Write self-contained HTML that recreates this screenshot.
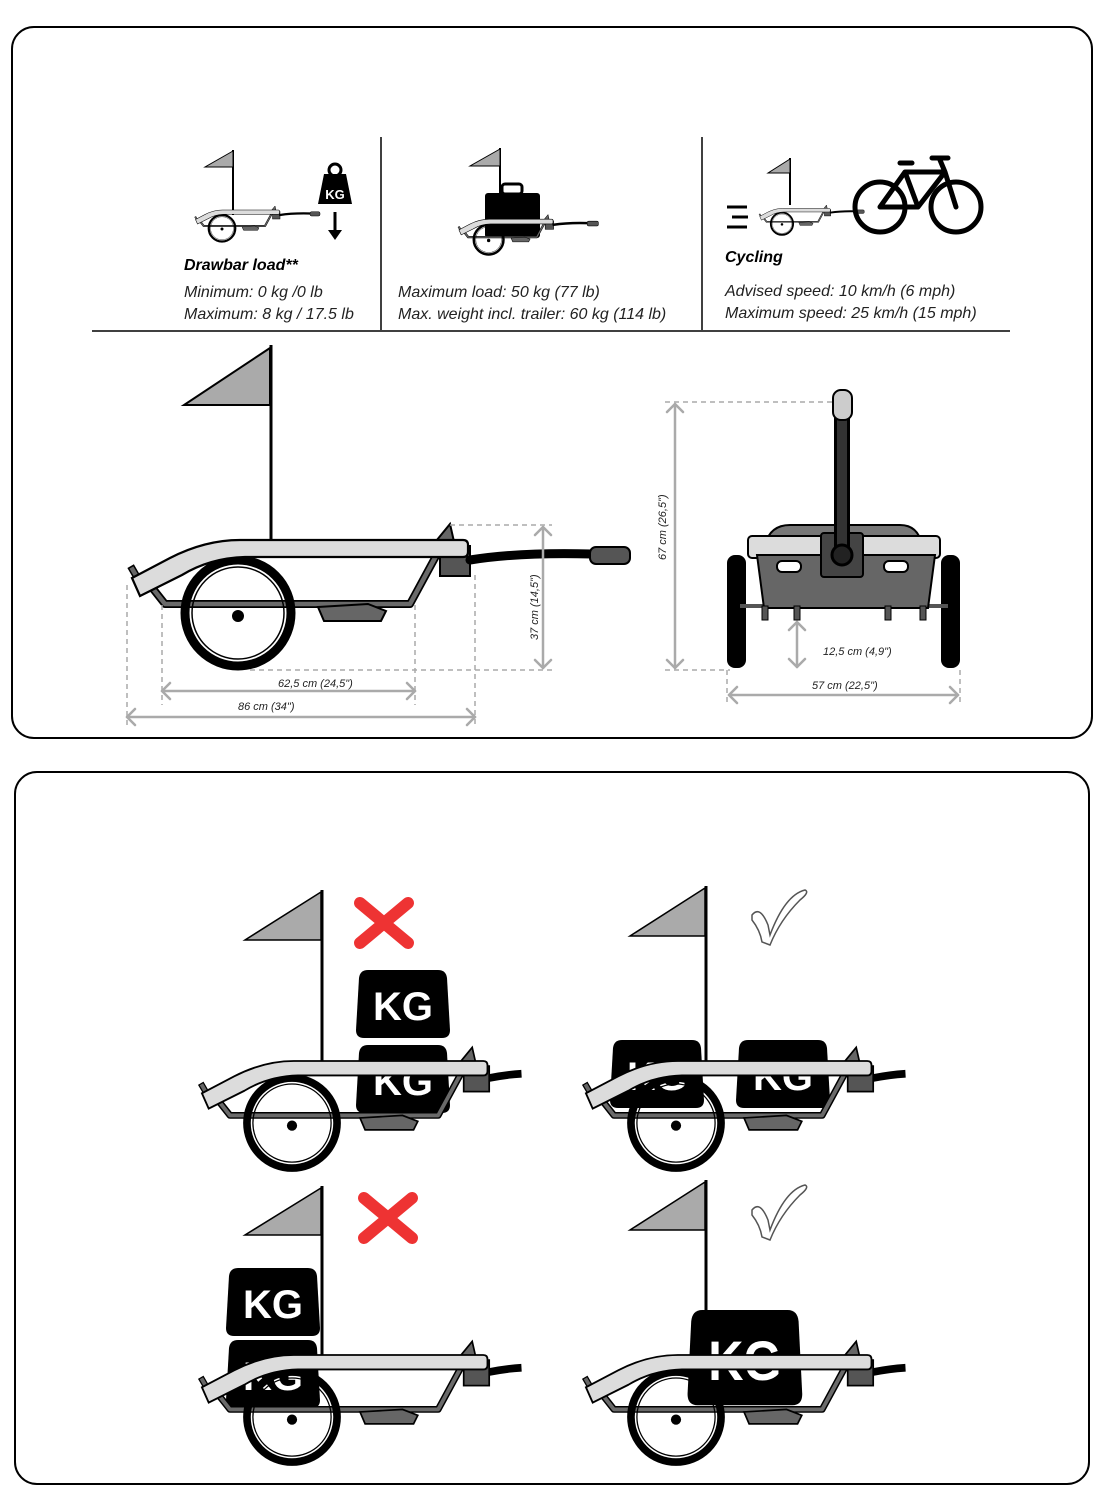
<!DOCTYPE html>
<html><head><meta charset="utf-8"><style>
html,body{margin:0;padding:0;background:#fff;}
svg{display:block;}
text{font-family:"Liberation Sans",sans-serif;}
</style></head><body>
<svg width="1109" height="1500" viewBox="0 0 1109 1500" xmlns="http://www.w3.org/2000/svg">
<defs>
<g id="tb">
  <path d="M150,585 L165,604 L410,604 L442,545" fill="none" stroke="#000" stroke-width="8" stroke-linejoin="round"/>
  <path d="M150,585 L165,604 L410,604 L442,545" fill="none" stroke="#6a6a6a" stroke-width="4.5" stroke-linejoin="round"/>
  <path d="M318,607 L368,604 L386,611 L381,621 L324,621 Z" fill="#666" stroke="#000" stroke-width="2"/>
  <circle cx="238" cy="613" r="53" fill="none" stroke="#000" stroke-width="9"/>
  <circle cx="238" cy="613" r="46" fill="none" stroke="#000" stroke-width="1.5"/>
  <circle cx="238" cy="616" r="6" fill="#000"/>
  <path d="M432,546 L450,524 L455,546 Z" fill="#666" stroke="#000" stroke-width="2"/>
  <rect x="440" y="546" width="30" height="30" fill="#555" stroke="#000" stroke-width="2"/>
  <rect x="131" y="566" width="6" height="12" fill="#666" stroke="#000" stroke-width="1.5" transform="rotate(-30 134 572)"/>
  <path d="M132,578 L140,596 L182,575 Q210,558 245,557 L463,557 Q468,557 468,552 L468,545 Q468,540 463,540 L240,540 Q205,540 170,558 Z" fill="#dcdcdc" stroke="#000" stroke-width="2.2"/>
</g>
<g id="db">
  <path d="M470,560 Q520,552 592,554" fill="none" stroke="#000" stroke-width="9" stroke-linecap="round"/>
  <rect x="590" y="547" width="40" height="17" rx="6" fill="#555" stroke="#000" stroke-width="2"/>
</g>
<g id="sb">
  <path d="M470,560 Q490,556 508,555" fill="none" stroke="#000" stroke-width="9"/>
</g>
<g id="kg">
  <path d="M10,0 L80,0 Q88,0 89,8 L92,60 Q92,68 84,68 L6,68 Q-2,68 -2,60 L1,8 Q2,0 10,0 Z" fill="#000"/>
  <text x="45" y="50" text-anchor="middle" font-size="40" font-weight="bold" fill="#fff">KG</text>
</g>
</defs>

<rect x="12" y="27" width="1080" height="711" rx="22" fill="none" stroke="#000" stroke-width="2"/>
<rect x="15" y="772" width="1074" height="712" rx="22" fill="none" stroke="#000" stroke-width="2"/>

<line x1="381" y1="137" x2="381" y2="330" stroke="#000" stroke-width="1.5"/>
<line x1="702" y1="137" x2="702" y2="330" stroke="#000" stroke-width="1.5"/>
<line x1="92" y1="331" x2="1010" y2="331" stroke="#000" stroke-width="1.5"/>

<!-- icon 1 -->
<line x1="233" y1="150" x2="233" y2="215" stroke="#000" stroke-width="2"/>
<polygon points="233,151 205,167 233,167" fill="#aaa" stroke="#000" stroke-width="1"/>
<use href="#tb" transform="translate(162.5 75) scale(0.25)"/>
<use href="#db" transform="translate(162.5 75) scale(0.25)"/>
<path d="M324,174 L346,174 L352,204 L318,204 Z" fill="#000"/>
<circle cx="335" cy="170" r="6" fill="none" stroke="#000" stroke-width="3"/>
<text x="335" y="199" text-anchor="middle" font-size="13" font-weight="bold" fill="#fff">KG</text>
<line x1="335" y1="212" x2="335" y2="234" stroke="#000" stroke-width="3"/>
<polygon points="328,230 342,230 335,240" fill="#000"/>
<text x="184" y="270" font-size="16" font-weight="bold" font-style="italic">Drawbar load**</text>
<text x="184" y="297" font-size="16" font-style="italic" fill="#222">Minimum:  0 kg  /0 lb</text>
<text x="184" y="319" font-size="16" font-style="italic" fill="#222">Maximum: 8 kg  / 17.5 lb</text>

<!-- icon 2 -->
<line x1="500" y1="148" x2="500" y2="200" stroke="#000" stroke-width="2"/>
<polygon points="500,149 470,166 500,166" fill="#aaa" stroke="#000" stroke-width="1"/>
<rect x="485" y="193" width="55" height="45" rx="3" fill="#000"/>
<rect x="502" y="184" width="20" height="10" rx="3" fill="none" stroke="#000" stroke-width="3"/>
<use href="#tb" transform="translate(422 68) scale(0.28)"/>
<use href="#db" transform="translate(422 68) scale(0.28)"/>
<text x="398" y="297" font-size="16" font-style="italic" fill="#222">Maximum  load: 50 kg  (77 lb)</text>
<text x="398" y="319" font-size="16" font-style="italic" fill="#222">Max. weight incl. trailer: 60 kg  (114 lb)</text>

<!-- icon 3 -->
<line x1="790" y1="158" x2="790" y2="205" stroke="#000" stroke-width="2"/>
<polygon points="790,159 768,173 790,173" fill="#aaa" stroke="#000" stroke-width="1"/>
<use href="#tb" transform="translate(732 95) scale(0.21)"/>
<use href="#db" transform="translate(732 95) scale(0.21)"/>
<line x1="727" y1="207" x2="747" y2="207" stroke="#000" stroke-width="3"/>
<line x1="732" y1="217" x2="748" y2="217" stroke="#000" stroke-width="3"/>
<line x1="727" y1="227" x2="747" y2="227" stroke="#000" stroke-width="3"/>
<g fill="none" stroke="#000" stroke-width="5" stroke-linejoin="round" stroke-linecap="round">
  <circle cx="880" cy="207" r="25"/>
  <circle cx="956" cy="207" r="25"/>
  <path d="M880,207 L905,172 L945,172 L956,207 M905,172 L918,207 L945,172 M880,207 L918,207 M900,163 L912,163 M940,160 L945,172 M932,158 L948,158"/>
</g>
<text x="725" y="262" font-size="16" font-weight="bold" font-style="italic">Cycling</text>
<text x="725" y="296" font-size="16" font-style="italic" fill="#222">Advised speed: 10 km/h  (6 mph)</text>
<text x="725" y="318" font-size="16" font-style="italic" fill="#222">Maximum speed: 25 km/h (15 mph)</text>

<!-- big side view -->
<line x1="271" y1="345" x2="271" y2="545" stroke="#000" stroke-width="3"/>
<polygon points="270,348 184,405 270,405" fill="#aaa" stroke="#000" stroke-width="2"/>
<use href="#tb"/>
<use href="#db"/>
<g stroke="#aaa" stroke-width="1.5" stroke-dasharray="5,4" fill="none">
  <line x1="450" y1="525" x2="552" y2="525"/>
  <line x1="250" y1="670" x2="552" y2="670"/>
  <line x1="162" y1="605" x2="162" y2="705"/>
  <line x1="415" y1="605" x2="415" y2="705"/>
  <line x1="127" y1="585" x2="127" y2="728"/>
  <line x1="475" y1="575" x2="475" y2="728"/>
  <line x1="665" y1="402" x2="835" y2="402"/>
  <line x1="665" y1="670" x2="730" y2="670"/>
  <line x1="727" y1="670" x2="727" y2="705"/>
  <line x1="960" y1="670" x2="960" y2="705"/>
</g>
<g stroke="#aaa" stroke-width="2.5" fill="none" stroke-linecap="round" stroke-linejoin="round">
  <line x1="543" y1="527" x2="543" y2="668"/>
  <path d="M535,535 L543,527 L551,535 M535,660 L543,668 L551,660"/>
  <line x1="162" y1="691" x2="415" y2="691"/>
  <path d="M170,683 L162,691 L170,699 M407,683 L415,691 L407,699"/>
  <line x1="127" y1="717" x2="475" y2="717"/>
  <path d="M135,709 L127,717 L135,725 M467,709 L475,717 L467,725"/>
  <line x1="675" y1="404" x2="675" y2="668"/>
  <path d="M667,412 L675,404 L683,412 M667,660 L675,668 L683,660"/>
  <line x1="797" y1="622" x2="797" y2="667"/>
  <path d="M789,630 L797,622 L805,630 M789,659 L797,667 L805,659"/>
  <line x1="729" y1="695" x2="958" y2="695"/>
  <path d="M737,687 L729,695 L737,703 M950,687 L958,695 L950,703"/>
</g>
<g font-size="11" font-style="italic" fill="#222">
  <text x="278" y="687">62,5 cm (24,5")</text>
  <text x="238" y="710">86 cm (34")</text>
  <text transform="translate(538 640) rotate(-90)">37 cm (14,5")</text>
  <text transform="translate(666 560) rotate(-90)">67 cm (26,5")</text>
  <text x="823" y="655">12,5 cm (4,9")</text>
  <text x="812" y="689">57 cm (22,5")</text>
</g>

<!-- rear view -->
<rect x="727" y="555" width="19" height="113" rx="8" fill="#000"/>
<rect x="941" y="555" width="19" height="113" rx="8" fill="#000"/>
<line x1="740" y1="606" x2="948" y2="606" stroke="#555" stroke-width="4"/>
<path d="M765,545 Q770,525 790,525 L900,525 Q918,525 922,545 Z" fill="#777" stroke="#000" stroke-width="2"/>
<rect x="748" y="536" width="192" height="22" rx="4" fill="#dcdcdc" stroke="#000" stroke-width="2"/>
<path d="M757,555 L935,555 L928,608 L764,608 Z" fill="#666" stroke="#000" stroke-width="2"/>
<rect x="777" y="561" width="24" height="11" rx="5" fill="#fff" stroke="#000" stroke-width="2"/>
<rect x="884" y="561" width="24" height="11" rx="5" fill="#fff" stroke="#000" stroke-width="2"/>
<rect x="762" y="606" width="6" height="14" fill="#555" stroke="#000"/>
<rect x="920" y="606" width="6" height="14" fill="#555" stroke="#000"/>
<rect x="794" y="606" width="6" height="14" fill="#555" stroke="#000"/>
<rect x="885" y="606" width="6" height="14" fill="#555" stroke="#000"/>
<rect x="821" y="533" width="42" height="44" rx="3" fill="#444" stroke="#000" stroke-width="2"/>
<line x1="842" y1="410" x2="842" y2="550" stroke="#000" stroke-width="16"/>
<line x1="842" y1="410" x2="842" y2="550" stroke="#333" stroke-width="10"/>
<circle cx="842" cy="555" r="10" fill="#222" stroke="#000" stroke-width="3"/>
<rect x="833" y="390" width="19" height="30" rx="8" fill="#ccc" stroke="#000" stroke-width="2"/>

<!-- TL -->
<line x1="322" y1="890" x2="322" y2="1075" stroke="#000" stroke-width="3"/>
<polygon points="321,892 245,940 321,940" fill="#aaa" stroke="#000" stroke-width="1.5"/>
<path d="M360,903 L408,943 M408,903 L360,943" stroke="#e33" stroke-width="12" stroke-linecap="round"/>
<use href="#kg" transform="translate(358 970)"/>
<use href="#kg" transform="translate(358 1045)"/>
<use href="#tb" transform="translate(89.7 602) scale(0.85)"/>
<use href="#sb" transform="translate(89.7 602) scale(0.85)"/>

<!-- TR -->
<line x1="706" y1="886" x2="706" y2="1070" stroke="#000" stroke-width="3"/>
<polygon points="705,888 630,936 705,936" fill="#aaa" stroke="#000" stroke-width="1.5"/>
<path d="M752,915 Q760,905 768,925 L770,935 Q785,895 805,890 Q810,892 800,900 Q780,920 770,945 L762,942 Q760,930 752,920 Z" fill="#fff" stroke="#555" stroke-width="1.5"/>
<use href="#kg" transform="translate(612 1040)"/>
<use href="#kg" transform="translate(738 1040)"/>
<use href="#tb" transform="translate(473.7 602) scale(0.85)"/>
<use href="#sb" transform="translate(473.7 602) scale(0.85)"/>

<!-- BL -->
<line x1="322" y1="1186" x2="322" y2="1370" stroke="#000" stroke-width="3"/>
<polygon points="321,1188 245,1235 321,1235" fill="#aaa" stroke="#000" stroke-width="1.5"/>
<path d="M364,1198 L412,1238 M412,1198 L364,1238" stroke="#e33" stroke-width="12" stroke-linecap="round"/>
<use href="#kg" transform="translate(228 1268)"/>
<use href="#kg" transform="translate(228 1340)"/>
<use href="#tb" transform="translate(89.7 896) scale(0.85)"/>
<use href="#sb" transform="translate(89.7 896) scale(0.85)"/>

<!-- BR -->
<line x1="706" y1="1180" x2="706" y2="1365" stroke="#000" stroke-width="3"/>
<polygon points="705,1182 630,1230 705,1230" fill="#aaa" stroke="#000" stroke-width="1.5"/>
<path d="M752,1210 Q760,1200 768,1220 L770,1230 Q785,1190 805,1185 Q810,1187 800,1195 Q780,1215 770,1240 L762,1237 Q760,1225 752,1215 Z" fill="#fff" stroke="#555" stroke-width="1.5"/>
<g transform="translate(690 1310) scale(1.22 1.4)"><use href="#kg"/></g>
<use href="#tb" transform="translate(473.7 896) scale(0.85)"/>
<use href="#sb" transform="translate(473.7 896) scale(0.85)"/>
</svg>
</body></html>
